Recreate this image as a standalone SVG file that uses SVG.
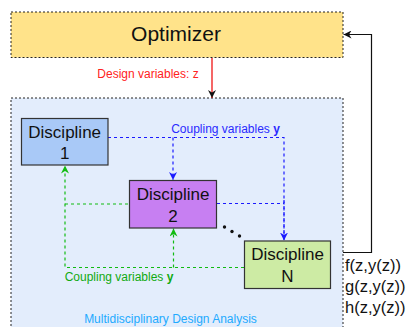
<svg xmlns="http://www.w3.org/2000/svg" width="409" height="327" viewBox="0 0 409 327">
<defs>
<style>
text{font-family:"Liberation Sans",Arial,sans-serif;}
.box{stroke:#222;stroke-width:1;stroke-dasharray:2,2;}
.disc{stroke:#333;stroke-width:1.2;}
.dt{font-size:17px;fill:#111;text-anchor:middle;}
.blue{stroke:#1a1aff;stroke-width:1.2;stroke-dasharray:3,3;fill:none;}
.green{stroke:#11bb11;stroke-width:1.2;stroke-dasharray:3,3;fill:none;}
</style>
<marker id="ab" viewBox="0 0 10 10" refX="10" refY="5" markerWidth="8" markerHeight="8" markerUnits="userSpaceOnUse" orient="auto"><path d="M0,0 L10,5 L0,10 L3,5 Z" fill="#1a1aff"/></marker>
<marker id="ag" viewBox="0 0 10 10" refX="10" refY="5" markerWidth="8" markerHeight="8" markerUnits="userSpaceOnUse" orient="auto"><path d="M0,0 L10,5 L0,10 L3,5 Z" fill="#11bb11"/></marker>
<marker id="ar" viewBox="0 0 10 10" refX="10" refY="5" markerWidth="8" markerHeight="8" markerUnits="userSpaceOnUse" orient="auto"><path d="M0,0 L10,5 L0,10 L3,5 Z" fill="#111"/></marker>
<marker id="ak" viewBox="0 0 10 10" refX="10" refY="5" markerWidth="8" markerHeight="8" markerUnits="userSpaceOnUse" orient="auto"><path d="M0,0 L10,5 L0,10 L3,5 Z" fill="#111"/></marker>
</defs>
<g id="mda">
<rect x="11" y="98" width="332" height="240" fill="#e3edfc" class="box"/>
<text x="170.5" y="323" font-size="12" fill="#22aaff" text-anchor="middle">Multidisciplinary Design Analysis</text>
</g>
<g id="optimizer">
<rect x="11" y="12" width="332" height="45.5" fill="#ffe38a" class="box"/>
<text x="176" y="41" font-size="21" fill="#111" text-anchor="middle">Optimizer</text>
</g>
<g id="connectors">
<path d="M212,58 V98" stroke="#ee0000" stroke-width="1.2" fill="none" marker-end="url(#ar)"/>
<text x="148" y="77.5" font-size="12" fill="#ff2222" text-anchor="middle">Design variables: z</text>
<path d="M343,252.5 H371.5 V34.5 H343.5" stroke="#111" stroke-width="1.2" fill="none" marker-end="url(#ak)"/>
<path class="blue" d="M108,137.5 H284 V240"/>
<path class="blue" d="M173,137.5 V180" marker-end="url(#ab)"/>
<path class="blue" d="M217,203.5 H284"/>
<path class="blue" d="M284,200 V240.5" marker-end="url(#ab)"/>
<path class="green" d="M244,267.5 H65 V165.5" marker-end="url(#ag)"/>
<path class="green" d="M65,204 H129"/>
<path class="green" d="M173.5,267.5 V228.5" marker-end="url(#ag)"/>
<text x="225.5" y="133" font-size="12" fill="#2a2aff" text-anchor="middle">Coupling variables <tspan font-weight="bold">y</tspan></text>
<text x="119" y="281" font-size="12" fill="#11aa11" text-anchor="middle">Coupling variables <tspan font-weight="bold">y</tspan></text>
<circle cx="224.5" cy="227" r="1.7" fill="#111"/>
<circle cx="232" cy="231.5" r="1.7" fill="#111"/>
<circle cx="239.5" cy="236" r="1.7" fill="#111"/>
</g>
<g id="discipline1">
<rect x="21.5" y="118.5" width="86.5" height="46.5" fill="#a9c9f7" class="disc"/>
<text class="dt" x="64.7" y="138">Discipline</text>
<text class="dt" x="64.7" y="159">1</text>
</g>
<g id="discipline2">
<rect x="129.5" y="180.5" width="87" height="47.5" fill="#c77ff2" class="disc"/>
<text class="dt" x="173" y="200">Discipline</text>
<text class="dt" x="173" y="222">2</text>
</g>
<g id="disciplineN">
<rect x="244.5" y="241" width="86" height="47.5" fill="#cdeba4" class="disc"/>
<text class="dt" x="287.5" y="260">Discipline</text>
<text class="dt" x="287.5" y="282">N</text>
</g>
<g id="outputs">
<text x="345" y="271" font-size="16.5" fill="#111">f(z,y(z))</text>
<text x="345" y="292" font-size="16.5" fill="#111">g(z,y(z))</text>
<text x="345" y="313" font-size="16.5" fill="#111">h(z,y(z))</text>
</g>
</svg>
